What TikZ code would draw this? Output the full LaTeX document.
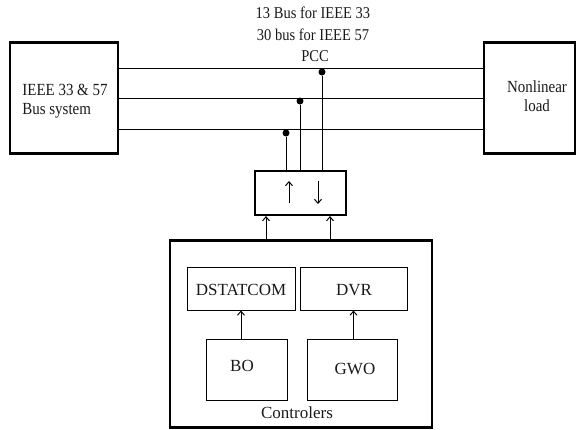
\documentclass[tikz,border=0pt]{standalone}
\usepackage{fontspec}
\setmainfont{Liberation Serif}
\newfontfamily\narrowf[FakeStretch=0.88]{Liberation Serif}
\usetikzlibrary{arrows.meta}
\begin{document}
\begin{tikzpicture}[x=1pt,y=-1pt,
  thickbox/.style={draw,line width=2.2pt,inner sep=0pt},
  thinbox/.style={draw,line width=1pt,inner sep=0pt},
  bus/.style={line width=1pt},
  lbl/.style={font=\fontsize{17}{19}\selectfont,align=center,text=black!90},
  nlbl/.style={font=\narrowf\fontsize{16.5}{19}\selectfont,align=center,text=black!90},
  slbl/.style={font=\narrowf\fontsize{17}{19}\selectfont,align=center,text=black!90},
  arr/.style={line width=1pt,-{Straight Barb[length=4pt,width=7pt]}},
  dot/.style={circle,fill=black,inner sep=0pt,minimum size=7pt}]
\useasboundingbox (0,0) rectangle (584,429);
% main boxes
\node[thickbox,minimum width=108pt,minimum height=111pt] (src) at (64,98) {};
\node[slbl,align=left] (srct) at (65,101) {IEEE 33 \& 57\\Bus system};
\node[thickbox,minimum width=91pt,minimum height=111pt] (load) at (529.5,98) {};
\node[slbl] (loadt) at (537,96) {Nonlinear\\load};
% bus lines
\coordinate (l1a) at (118,68); \coordinate (l1b) at (484,68);
\coordinate (l2a) at (118,98); \coordinate (l2b) at (484,98);
\coordinate (l3a) at (118,129); \coordinate (l3b) at (484,129);
\draw[bus] (l1a) -- (l1b);
\draw[bus] (l2a) -- (l2b);
\draw[bus] (l3a) -- (l3b);
% labels
\node[nlbl] (t1) at (313,13) {13 Bus for IEEE 33};
\node[nlbl] (t2) at (313,35) {30 bus for IEEE 57};
\node[nlbl] (t3) at (315,56) {PCC};
% converter
\node[thickbox,minimum width=91pt,minimum height=44pt] (conv) at (300.5,193) {};
\coordinate (ua) at (289,203); \coordinate (ub) at (289,181);
\coordinate (da) at (318,181); \coordinate (db) at (318,204);
\draw[arr] (ua) -- (ub);
\draw[arr] (da) -- (db);
% PCC dots and taps
\node[dot] (d1) at (322,72) {};
\node[dot] (d2) at (300,101) {};
\node[dot] (d3) at (286,133) {};
\draw[bus] (d1) -- (d1 |- conv.north);
\draw[bus] (d2) -- (d2 |- conv.north);
\draw[bus] (d3) -- (d3 |- conv.north);
% controllers
\node[thickbox,minimum width=262pt,minimum height=187pt] (ctrl) at (301,334) {};
\coordinate (c1) at (266,240); \coordinate (c2) at (330,240);
\draw[arr] (c1) -- (c1 |- conv.south);
\draw[arr] (c2) -- (c2 |- conv.south);
\node[thinbox,minimum width=108pt,minimum height=43pt] (dst) at (241,288.5) {};
\node[lbl] (dstt) at (241,290) {DSTATCOM};
\node[thinbox,minimum width=107pt,minimum height=43pt] (dvr) at (353.5,288.5) {};
\node[lbl] (dvrt) at (354,290) {DVR};
\node[thinbox,minimum width=81pt,minimum height=61pt] (bo) at (246.5,369.5) {};
\node[lbl] (bot) at (242,366) {BO};
\node[thinbox,minimum width=90pt,minimum height=61pt] (gwo) at (352,369.5) {};
\node[lbl] (gwot) at (355,369) {GWO};
\draw[arr] (bo.north -| dst) -- (dst.south);
\draw[arr] (gwo.north -| dvr) -- (dvr.south);
\node[lbl] (ctrlt) at (297,413) {Controlers};
\end{tikzpicture}
\end{document}
